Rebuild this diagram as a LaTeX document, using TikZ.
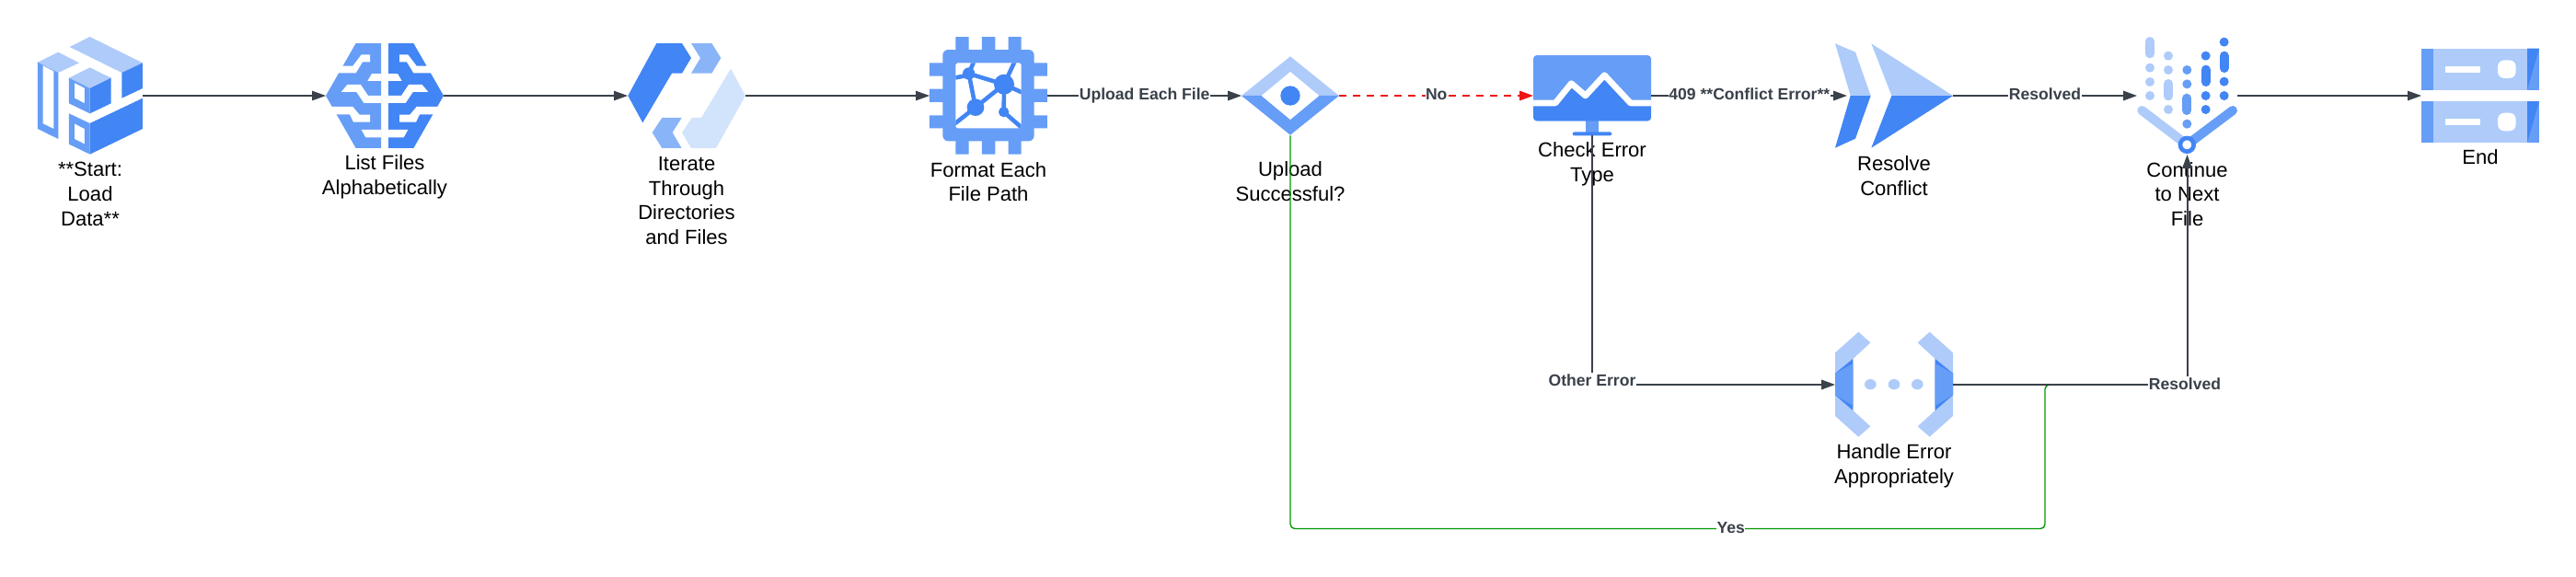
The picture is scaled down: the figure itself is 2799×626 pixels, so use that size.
\documentclass[tikz,border=0pt]{standalone}
\usepackage{fontspec}
\setmainfont{Liberation Sans}
\usetikzlibrary{arrows.meta}
\definecolor{gl}{HTML}{AECBFA}
\definecolor{gm}{HTML}{669DF6}
\definecolor{gd}{HTML}{4285F4}
\definecolor{gi}{HTML}{8AB4F8}
\definecolor{gx}{HTML}{D2E3FC}
\definecolor{ink}{HTML}{3A414A}
\definecolor{redl}{HTML}{EE1515}
\definecolor{grn}{HTML}{009900}
\tikzset{
  iconbox/.style={rectangle,inner sep=0pt,outer sep=0pt},
  lbl/.style={align=center,inner sep=0pt,text=black,font=\fontsize{12.55}{15.18}\selectfont},
  conn/.style={draw=ink,line width=1.14pt,-{Triangle[length=8.5pt,width=5.9pt]}},
  thinconn/.style={conn,line width=0.75pt},
  edgelbl/.style={anchor=base,fill=white,text=ink,inner sep=0.3pt,text height=7.9pt,text depth=2pt,font=\fontsize{10}{12}\selectfont\bfseries},
  zoomgrid/.style={x=0.0066667cm,y=-0.0066667cm},
}
\newcommand{\brainhalf}[1]{%
  \fill[#1] (-94,141)--(-12,141)--(-12,483)--(-94,483)--(-192,312)--cycle;
  \fill[white] (-48,178)--(-76,178)--(-104,215)--(-200,215)--(-200,238)--(-94,238)--(-72,202)--(-48,202)--cycle;
  \fill[white] (-12,240)--(-42,240)--(-56,264)--(-12,264)--cycle;
  \fill[white] (-142,300)--(-122,276)--(-78,276)--(-54,312)--(-12,312)--(-12,336)--(-68,336)--(-92,300)--cycle;
  \fill[white] (-200,348)--(-104,348)--(-82,374)--(-48,374)--(-48,398)--(-102,398)--(-114,373)--(-200,373)--cycle;
  \fill[white] (-76,423)--(-12,423)--(-12,448)--(-62,448)--cycle;
}
\newcommand{\rackunit}[1]{%
  \fill[gl] (672,#1) rectangle (978,#1+135);
  \fill[gm] (633,#1) rectangle (672,#1+135);
  \fill[gm] (978,#1) rectangle (1017,#1+135);
  \fill[gd] (978,#1)--(1017,#1)--(978,#1+135)--cycle;
  \fill[white] (710,#1+58) rectangle (825,#1+78);
  \fill[white,rounded corners=4pt] (882,#1+38) rectangle (941,#1+97);
}
\begin{document}
\begin{tikzpicture}[x=0.02cm,y=-0.02cm]
\useasboundingbox (0,0) rectangle (2799,626);
% ---- anchor nodes for the icons
\node[iconbox,minimum width=2.28cm,minimum height=2.56cm] (start) at (98,104) {};
\node[iconbox,minimum width=2.56cm,minimum height=2.28cm] (list) at (418,104) {};
\node[iconbox,minimum width=2.56cm,minimum height=2.28cm] (iterate) at (746,104) {};
\node[iconbox,minimum width=2.56cm,minimum height=2.56cm] (format) at (1074,104) {};
\node[iconbox,minimum width=2.12cm,minimum height=1.74cm] (upload) at (1402,104) {};
\node[iconbox,minimum width=2.56cm,minimum height=1.74cm] (check) at (1730,104) {};
\node[iconbox,minimum width=2.56cm,minimum height=2.28cm] (resolve) at (2058,104) {};
\node[iconbox,minimum width=2.18cm,minimum height=2.56cm] (cont) at (2376.5,104) {};
\node[iconbox,minimum width=2.56cm,minimum height=2.06cm] (endn) at (2695,104) {};
\node[iconbox,minimum width=2.56cm,minimum height=2.28cm] (handle) at (2058,418) {};
\coordinate (resolvein) at (2007,104);
\coordinate (greenend) at (2240,418);
\coordinate (greenleft) at (1402,574.5);
\coordinate (greenright) at (2222,574.5);
\coordinate (greentop) at (2222,418);
% ---- Start icon
\begin{scope}[zoomgrid]
  \fill[gl] (227,153)--(293,120)--(465,205)--(397,237)--cycle;
  \fill[gl] (123,203)--(190,170)--(258,205)--(190,237)--cycle;
  \fill[gd] (397,237)--(465,205)--(465,288)--(397,320)--cycle;
  \fill[gl] (225,254)--(293,220)--(362,254)--(293,288)--cycle;
  \fill[gd] (293,288)--(362,254)--(362,337)--(293,370)--cycle;
  \fill[gm,even odd rule] (225,254)--(293,288)--(293,370)--(225,337)--cycle (243,270)--(276,287)--(276,337)--(243,320)--cycle;
  \fill[gd] (293,402)--(465,320)--(465,420)--(293,503)--cycle;
  \fill[gm,even odd rule] (225,370)--(293,402)--(293,503)--(225,470)--cycle (243,403)--(276,420)--(276,470)--(243,453)--cycle;
  \fill[gm,even odd rule] (123,203)--(190,237)--(190,453)--(123,420)--cycle (140,213)--(175,232)--(175,420)--(140,403)--cycle;
\end{scope}
% ---- List icon
\begin{scope}[shift={(418,0)},zoomgrid]
  \brainhalf{gm}
  \begin{scope}[xscale=-1]\brainhalf{gd}\end{scope}
\end{scope}
% ---- Iterate icon
\begin{scope}[shift={(640,0)},zoomgrid]
  \fill[gd] (220,141)--(303,141)--(333,189)--(303,239)--(270,239)--(175,400)--(127,312)--cycle;
  \fill[gi] (333,141)--(400,141)--(430,189)--(400,239)--(333,239)--(363,189)--cycle;
  \fill[gx] (462,224)--(510,312)--(414,483)--(333,483)--(303,432)--(335,384)--(366,384)--cycle;
  \fill[gi] (238,384)--(302,384)--(272,432)--(302,483)--(238,483)--(206,432)--cycle;
\end{scope}
% ---- Format icon
\begin{scope}[shift={(640,0)},zoomgrid]
  \fill[gm] (1195,120) rectangle (1238,170) (1281,120) rectangle (1324,170) (1367,120) rectangle (1409,170);
  \fill[gm] (1195,450) rectangle (1238,503) (1281,450) rectangle (1324,503) (1367,450) rectangle (1409,503);
  \fill[gm] (1110,205) rectangle (1160,248) (1110,290) rectangle (1160,333) (1110,376) rectangle (1160,418);
  \fill[gm] (1445,205) rectangle (1494,248) (1445,290) rectangle (1494,333) (1445,376) rectangle (1494,418);
  \fill[gm,rounded corners=3.4pt] (1153,162) rectangle (1451,460);
  \fill[white,rounded corners=1.1pt] (1195,205) rectangle (1409,418);
  \begin{scope}
    \clip[rounded corners=1.1pt] (1195,205) rectangle (1409,418);
    \draw[gd,line width=2.6pt]
      (1255,200)--(1238,240) (1190,254)--(1238,245) (1238,240)--(1353,275)
      (1238,240)--(1260,350) (1260,350)--(1353,275) (1190,405)--(1260,350)
      (1388,200)--(1353,275) (1353,275)--(1415,303) (1353,275)--(1352,365)
      (1352,365)--(1415,420);
    \fill[gd] (1238,240) circle[radius=20] (1353,275) circle[radius=33]
      (1260,350) circle[radius=28] (1352,365) circle[radius=17];
  \end{scope}
\end{scope}
% ---- Upload icon
\begin{scope}[shift={(1000,0)},zoomgrid]
  \fill[gl] (1047,312)--(1206,184)--(1365,312)--cycle;
  \fill[gm] (1047,312)--(1206,440)--(1365,312)--cycle;
  \fill[white] (1112,312)--(1206,234)--(1300,312)--(1206,390)--cycle;
  \fill[gd] (1206,312) circle[radius=32];
\end{scope}
% ---- Check icon
\begin{scope}[shift={(1640,40)},zoomgrid]
  \fill[gm] (248,270) rectangle (292,312);
  \fill[gd,rounded corners=1.2pt] (206,310) rectangle (334,322);
  \fill[gm,rounded corners=2.2pt] (78,60) rectangle (462,274);
  \begin{scope}
    \clip[rounded corners=2.2pt] (78,60) rectangle (462,274);
    \fill[gd] (78,216)--(150,216)--(202,152)--(248,192)--(310,125)--(395,216)--(462,216)--(462,274)--(78,274)--cycle;
    \draw[white,line width=3.8pt,line join=round] (70,216)--(150,216)--(202,152)--(248,192)--(310,125)--(395,216)--(470,216);
  \end{scope}
\end{scope}
% ---- Resolve icon
\begin{scope}[shift={(1980,20)},zoomgrid]
  \fill[gl] (42,82)--(108,110)--(158,252)--(92,252)--cycle;
  \fill[gd] (92,252)--(158,252)--(108,392)--(42,422)--cycle;
  \fill[gl] (160,82)--(426,252)--(226,252)--cycle;
  \fill[gd] (226,252)--(426,252)--(160,422)--cycle;
\end{scope}
% ---- Continue icon
\begin{scope}[shift={(1980,20)},zoomgrid]
  \draw[gl,line width=5.7pt,line cap=round] (1068,75)--(1068,115) (1128,213)--(1128,253);
  \fill[gl] (1068,161) circle[radius=15] (1068,207) circle[radius=15] (1068,252) circle[radius=15]
            (1128,122) circle[radius=15] (1128,168) circle[radius=15] (1128,297) circle[radius=15];
  \draw[gm,line width=5.7pt,line cap=round] (1189,260)--(1189,300);
  \fill[gm] (1189,168) circle[radius=15] (1189,214) circle[radius=15] (1189,344) circle[radius=15];
  \draw[gd,line width=5.7pt,line cap=round] (1250,167)--(1250,207) (1310,122)--(1310,162);
  \fill[gd] (1250,122) circle[radius=15] (1250,252) circle[radius=15] (1250,297) circle[radius=15]
            (1310,77) circle[radius=15] (1310,206) circle[radius=15] (1310,252) circle[radius=15];
  \draw[gl,line width=5.7pt,line cap=round] (1042,300)--(1189,412);
  \draw[gm,line width=5.7pt,line cap=round] (1338,300)--(1189,412);
  \fill[white] (1189,412) circle[radius=22];
  \draw[gd,line width=2.66pt] (1189,412) circle[radius=22];
\end{scope}
% ---- End icon
\begin{scope}[shift={(2420,20)},zoomgrid]
  \rackunit{98}
  \rackunit{270}
\end{scope}
% ---- Handle icon
\begin{scope}[shift={(1960,340)},zoomgrid]
  \fill[gl] (102,130)--(178,62)--(217,97)--(160,150)--(160,318)--(217,370)--(178,404)--(102,336)--cycle;
  \fill[gd] (102,197)--(160,150)--(160,318)--(102,268)--cycle;
  \fill[gm] (102,197)--(160,165)--(160,303)--(102,268)--cycle;
  \fill[gl] (486,130)--(410,62)--(371,97)--(428,150)--(428,318)--(371,370)--(410,404)--(486,336)--cycle;
  \fill[gd] (486,197)--(428,150)--(428,318)--(486,268)--cycle;
  \fill[gm] (486,197)--(428,165)--(428,303)--(486,268)--cycle;
  \fill[gl] (217,233) ellipse[x radius=19,y radius=17] (294,233) ellipse[x radius=19,y radius=17] (370,233) ellipse[x radius=19,y radius=17];
\end{scope}
% ---- Labels of the icons
\node[lbl] (tstart) at (98,211) {**Start:\\Load\\Data**};
\node[lbl] (tlist) at (418,192.5) {List Files\\Alphabetically};
\node[lbl] (titerate) at (746,218) {Iterate\\Through\\Directories\\and Files};
\node[lbl] (tformat) at (1074,197.5) {Format Each\\File Path};
\node[lbl] (tupload) at (1402,197.2) {Upload\\Successful?};
\node[lbl] (tcheck) at (1730,178.5) {Check Error\\Type};
\node[lbl] (tresolve) at (2058,191.3) {Resolve\\Conflict};
\node[lbl] (tcont) at (2376.5,211) {Continue\\to Next\\File};
\node[lbl] (tend) at (2695,170.5) {End};
\node[lbl] (thandle) at (2058,506.3) {Handle Error\\Appropriately};
% ---- Connectors
\draw[grn,line width=0.78pt,rounded corners=2.8pt]
  (upload.south) -- (greenleft) -- (greenright) -- (greentop) -- (greenend);
\draw[thinconn] (start.east) -- (list.west);
\draw[thinconn] (list.east) -- (iterate.west);
\draw[thinconn] (iterate.east) -- (format.west);
\draw[conn] (format.east) -- (upload.west);
\draw[conn,draw=redl,dash pattern=on 4.5pt off 4pt] (upload.east) -- (check.west);
\draw[conn] (check.east) -- (resolvein);
\draw[conn] (resolve.east) -- (cont.west);
\draw[thinconn] (cont.east) -- (endn.west);
\draw[conn] (check.south) -- (check.south |- handle.west) -- (handle.west);
\draw[conn] (handle.east) -- (cont.south |- handle.east) -- (cont.south);
% ---- Connector labels
\node[edgelbl,inner sep=0pt] (e2) at (1560.7,108.3) {No};
\node[edgelbl] (e1) at (1243.7,108.3) {Upload Each File};
\node[edgelbl] (e3) at (1900.8,108.3) {409 **Conflict Error**};
\node[edgelbl] (e4) at (2222,108.3) {Resolved};
\node[edgelbl] (e5) at (1730,419.2) {Other Error};
\node[edgelbl] (e6) at (2374,423.2) {Resolved};
\node[edgelbl] (e7) at (1880.8,579.2) {Yes};
\end{tikzpicture}
\end{document}
